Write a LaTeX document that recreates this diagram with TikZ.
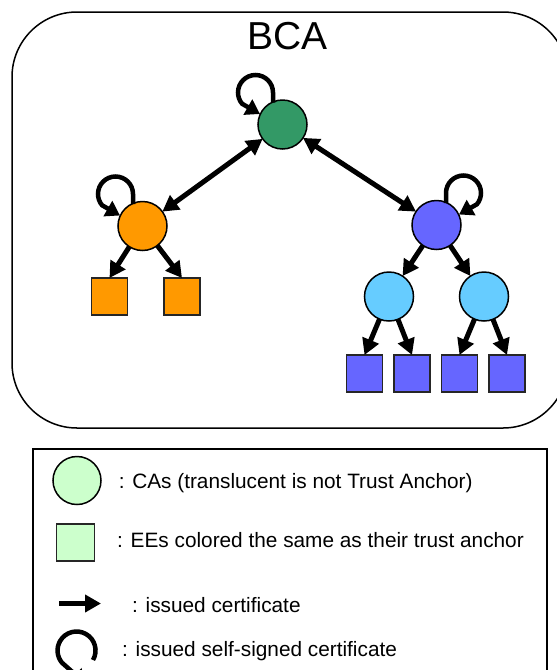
\documentclass[tikz,border=0pt]{standalone}
\usepackage{fontspec}
\setmainfont{Liberation Sans}
\usetikzlibrary{arrows.meta}
\definecolor{cagreen}{HTML}{339966}
\definecolor{caorange}{HTML}{FF9900}
\definecolor{cablue}{HTML}{6666FF}
\definecolor{calight}{HTML}{66CCFF}
\definecolor{legfill}{HTML}{CCFFCC}
\begin{document}
\begin{tikzpicture}[x=1pt,y=1pt,
  ca/.style={circle,draw=black,line width=1.5pt,minimum size=49pt,inner sep=0pt,outer sep=0pt},
  ee/.style={rectangle,draw=black!85,line width=1.5pt,minimum width=36pt,minimum height=37pt,inner sep=0pt,outer sep=0pt},
  cert/.style={line width=5pt,-{Triangle[length=16pt,width=17pt]}},
  bicert/.style={line width=5pt,{Triangle[length=16pt,width=17pt]}-{Triangle[length=16pt,width=17pt]}},
  selfcert/.style={line width=4.5pt,-{Triangle[length=14pt,width=17pt]}},
  frame/.style={draw=black,line width=1.5pt},
  legtext/.style={anchor=base west,inner sep=0pt,font=\fontsize{20.8}{24}\selectfont}]
\useasboundingbox (0,0) rectangle (557,-670);
% outer BCA box
\draw[frame,rounded corners=65pt] (12,-12) rectangle (568,-428);
\node[anchor=base,inner sep=0pt,font=\fontsize{39}{44}\selectfont] (title) at (287.5,-49) {BCA};
% CAs
\node[ca,fill=cagreen] (root) at (282.5,-124.5) {};
\node[ca,fill=caorange] (orange) at (142.5,-226) {};
\node[ca,fill=cablue] (blue) at (436.5,-225) {};
\node[ca,fill=calight] (lbA) at (389,-296.5) {};
\node[ca,fill=calight] (lbB) at (484,-296.5) {};
% EEs
\node[ee,fill=caorange] (oA) at (109.5,-296.5) {};
\node[ee,fill=caorange] (oB) at (182,-296.5) {};
\node[ee,fill=cablue] (bA) at (364.5,-373.5) {};
\node[ee,fill=cablue] (bB) at (412,-373.5) {};
\node[ee,fill=cablue] (bC) at (459.5,-373.5) {};
\node[ee,fill=cablue] (bD) at (507,-373.5) {};
% certificates
\draw[bicert] (root) -- (orange);
\draw[bicert] (root) -- (blue);
\draw[cert] (orange) -- (oA.north);
\draw[cert] (orange) -- (oB.north);
\draw[cert] (blue) -- (lbA);
\draw[cert] (blue) -- (lbB);
\draw[cert] (lbA) -- (bA.north);
\draw[cert] (lbA) -- (bB.north);
\draw[cert] (lbB) -- (bC.north);
\draw[cert] (lbB) -- (bD.north);
% self-signed loops
\draw[selfcert] ([shift={(-9.5,22)}]root.center) -- ++(0,10) arc[start angle=0,end angle=220,radius=17.5] -- ([shift={(-22.5,10.5)}]root.center);
\draw[selfcert] ([shift={(-9.5,22)}]orange.center) -- ++(0,10) arc[start angle=0,end angle=220,radius=17.5] -- ([shift={(-22.5,10.5)}]orange.center);
\draw[selfcert] ([shift={(9.5,22)}]blue.center) -- ++(0,10) arc[start angle=180,end angle=-40,radius=17.5] -- ([shift={(22.5,10.5)}]blue.center);
% legend
\draw[frame] (33,-449) rectangle (547,-700);
\node[ca,fill=legfill,minimum size=48pt] (legca) at (77,-480.5) {};
\node[legtext] (t1) at (118.6,-488) {: CAs (translucent is not Trust Anchor)};
\node[ee,fill=legfill,minimum width=38pt] (legee) at (75.7,-542.5) {};
\node[legtext] (t2) at (117,-547.5) {: EEs colored the same as their trust anchor};
\coordinate (arrS) at (59,-603.5);
\coordinate (arrE) at (101,-603.5);
\draw[cert] (arrS) -- (arrE);
\node[legtext] (t3) at (132,-612) {: issued certificate};
\coordinate (loopS) at (93,-660);
\coordinate (loopE) at (86,-684);
\draw[selfcert] (loopS) arc[start angle=-30,end angle=220,radius=19] -- (loopE);
\node[legtext] (t4) at (122,-656.5) {: issued self-signed certificate};
\end{tikzpicture}
\end{document}
